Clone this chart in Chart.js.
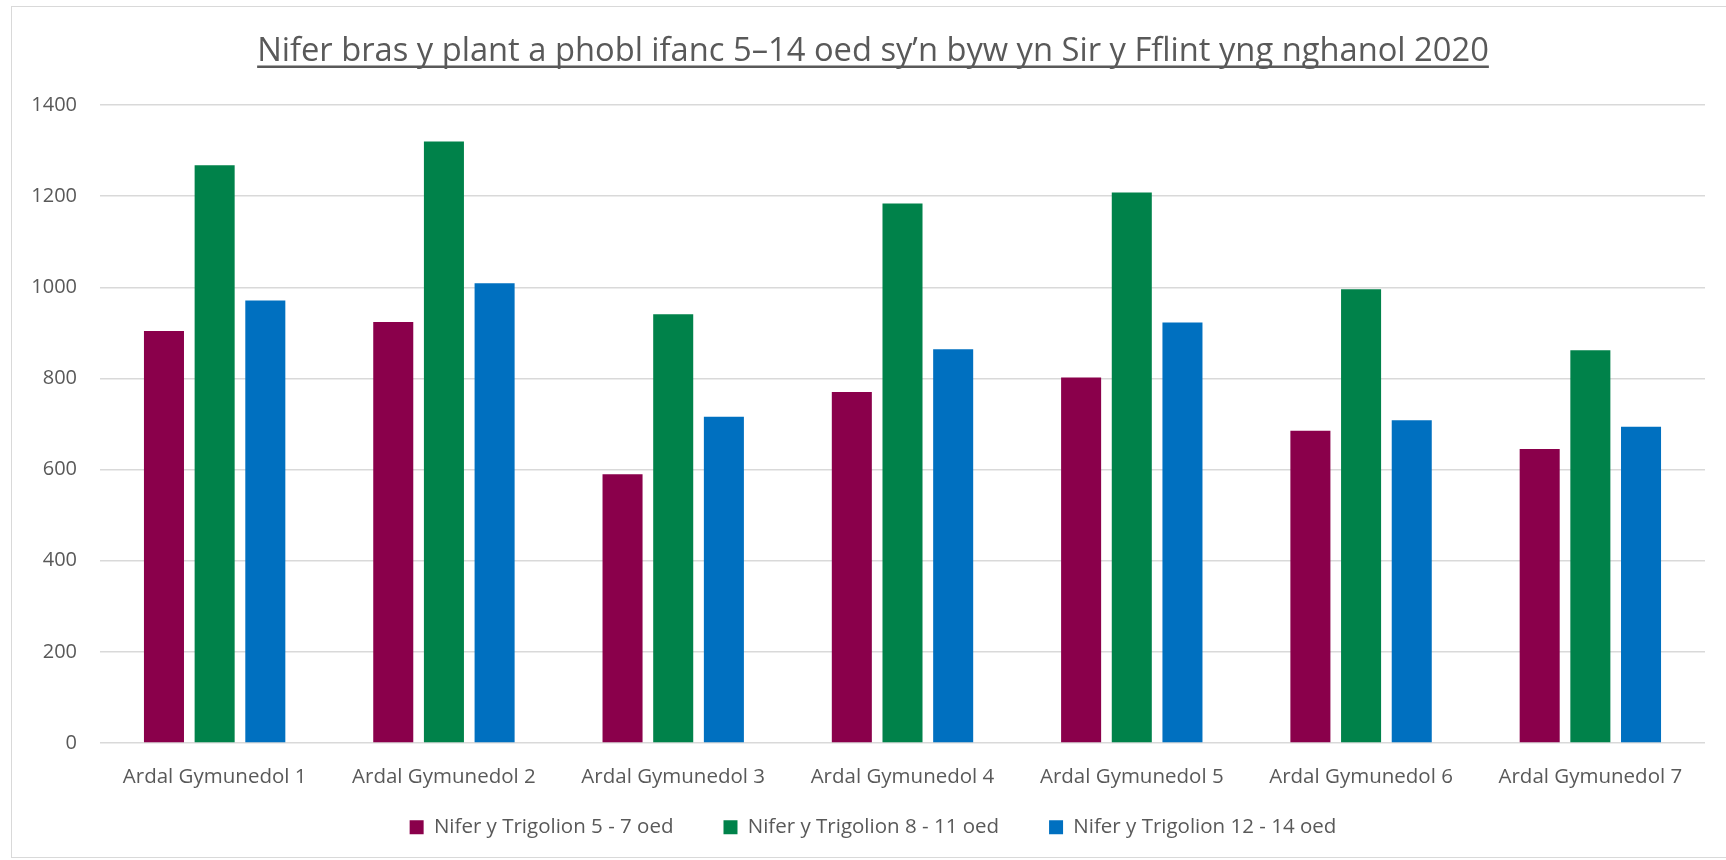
<!DOCTYPE html>
<html>
<head>
<meta charset="utf-8">
<script src="https://cdn.jsdelivr.net/npm/chart.js@4"></script>
<style>
    body { margin: 0; overflow: hidden; background: #fff; }
    #wrap { position: relative; width: 1726px; height: 860px; }
    #frame { position: absolute; left: 11px; top: 6px; width: 1730px; height: 850px; border: 1px solid #d9d9d9; }
</style>
</head>
<body>
<div id="wrap">
    <div id="frame"></div>
    <canvas id="barChart" width="1726" height="860"></canvas>
</div>
<script>
var titleText = "Nifer bras y plant a phobl ifanc 5–14 oed sy’n byw yn Sir y Fflint yng nghanol 2020";
var areas = ["Ardal Gymunedol 1", "Ardal Gymunedol 2", "Ardal Gymunedol 3", "Ardal Gymunedol 4",
             "Ardal Gymunedol 5", "Ardal Gymunedol 6", "Ardal Gymunedol 7"];
var age5to7 = [904, 924, 590, 770, 802, 685, 645];
var age8to11 = [1268, 1320, 941, 1184, 1208, 996, 862];
var age12to14 = [971, 1009, 716, 864, 923, 708, 694];
var seriesNames = ["Nifer y Trigolion 5 - 7 oed", "Nifer y Trigolion 8 - 11 oed", "Nifer y Trigolion 12 - 14 oed"];
var yTicks = [0, 200, 400, 600, 800, 1000, 1200, 1400];

var textGrey = "#595959";
var fontName = "'Open Sans', sans-serif";
var titleSize = 32.7;

// title + legend sit a bit right of the canvas middle in the original,
// and the legend is a little higher than chart.js would put it
var nudgeBoxes = {
    id: "nudgeBoxes",
    afterLayout(chart) {
        chart.titleBlock.left += 29;
        chart.legend.left += 29;
        chart.legend.top -= 22;
        chart.legend.bottom -= 22;
    },
    afterDraw(chart) {
        // underline under the chart title
        let t = chart.titleBlock;
        let ctx = chart.ctx;
        ctx.save();
        ctx.font = titleSize + "px " + fontName;
        let w = ctx.measureText(titleText).width;
        let cx = (t.left + t.right) / 2;
        ctx.fillStyle = textGrey;
        ctx.fillRect(cx - w / 2, 65.5, w, 2.5);
        ctx.restore();
    }
};

var bar = new Chart(document.getElementById("barChart"), {
    type: "bar",
    data: {
        labels: areas,
        datasets: [
            { label: seriesNames[0], data: age5to7, backgroundColor: "#8A004B" },
            { label: seriesNames[1], data: age8to11, backgroundColor: "#00824A" },
            { label: seriesNames[2], data: age12to14, backgroundColor: "#0070C0" }
        ]
    },
    options: {
        responsive: false,
        animation: false,
        layout: { padding: { left: 12, right: 21, top: 0, bottom: 0 } },
        datasets: { bar: { categoryPercentage: 0.663, barPercentage: 0.79 } },
        plugins: {
            title: {
                display: true,
                text: titleText,
                color: textGrey,
                font: { family: fontName, size: titleSize, weight: "normal" },
                padding: { top: 32.5, bottom: 33.3 }
            },
            legend: {
                position: "bottom",
                maxHeight: 71,
                labels: {
                    color: textGrey,
                    font: { family: fontName, size: 20.5 },
                    boxWidth: 14,
                    boxHeight: 14,
                    padding: 50
                }
            },
            tooltip: { enabled: false }
        },
        scales: {
            x: {
                grid: { display: false },
                border: { display: false },
                ticks: { color: textGrey, font: { family: fontName, size: 20.5 }, padding: 14 },
                afterFit(s) { s.height = 46; }
            },
            y: {
                min: 0,
                max: 1400,
                afterBuildTicks(s) { s.ticks = yTicks.map(v => ({ value: v })); },
                grid: { color: "#d9d9d9", lineWidth: 1.5, drawTicks: false },
                border: { display: false },
                ticks: {
                    color: textGrey,
                    font: { family: fontName, size: 20 },
                    padding: 23,
                    callback: (v) => String(v)
                },
                afterFit(s) { s.width = 88; }
            }
        }
    },
    plugins: [nudgeBoxes]
});
</script>
</body>
</html>
